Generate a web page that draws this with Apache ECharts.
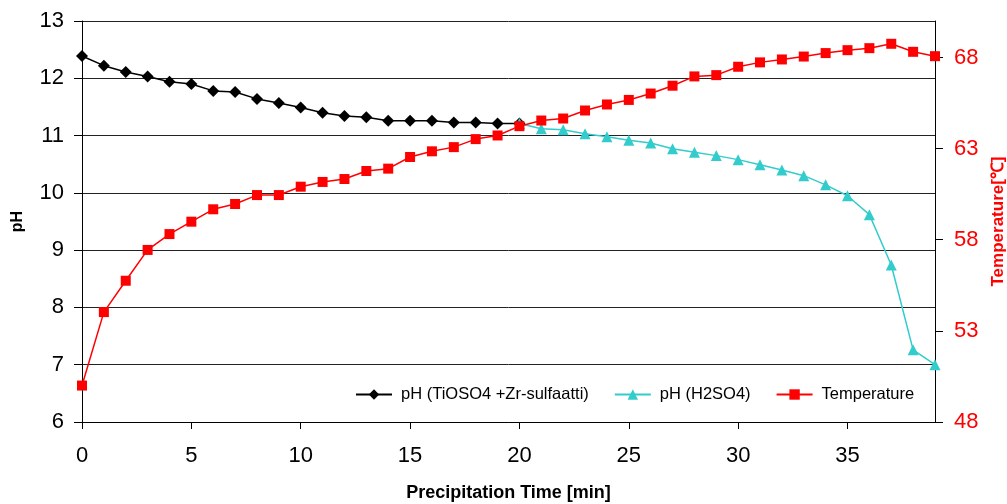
<!DOCTYPE html>
<html><head><meta charset="utf-8">
<script src="https://cdn.jsdelivr.net/npm/echarts@6/dist/echarts.min.js"></script>
<style>html,body{margin:0;padding:0;background:#fff}#c{width:1007px;height:504px}</style>
</head><body><div id="c"></div>
<script>
const times = [0,1,2,3,4,5,6,7,8,9,10,11,12,13,14,15,16,17,18,19,20,21,22,23,24,25,26,27,28,29,30,31,32,33,34,35,36,37,38,39];
const phTiOSO4 = [12.39,12.22,12.11,12.03,11.94,11.90,11.78,11.76,11.64,11.57,11.49,11.40,11.34,11.32,11.26,11.26,11.26,11.23,11.23,11.21,11.21];
const phH2SO4Times = [20,21,22,23,24,25,26,27,28,29,30,31,32,33,34,35,36,37,38,39];
const phH2SO4 = [11.21,11.12,11.10,11.03,10.98,10.92,10.87,10.77,10.71,10.65,10.58,10.49,10.40,10.30,10.14,9.95,9.62,8.74,7.26,7.00];
const temperature = [50.0,54.03,55.75,57.44,58.31,58.99,59.67,59.96,60.45,60.45,60.91,61.17,61.33,61.77,61.90,62.54,62.85,63.08,63.52,63.72,64.23,64.54,64.65,65.09,65.42,65.67,66.02,66.45,66.96,67.03,67.49,67.73,67.89,68.05,68.24,68.40,68.51,68.75,68.31,68.07];
const seriesNames = ['pH (TiOSO4 +Zr-sulfaatti)','pH (H2SO4)','Temperature'];

const chart = echarts.init(document.getElementById('c'));
const font = 'Liberation Sans, Arial, sans-serif';
chart.setOption({
  animation:false,
  textStyle:{fontFamily:font},
  grid:{left:82,right:72,top:21,bottom:82,containLabel:false,outerBoundsMode:'none'},
  legend:{
    data:seriesNames, left:350, top:381, itemWidth:36, itemHeight:13, itemGap:25,
    textStyle:{fontSize:16.5,color:'#000',fontFamily:font,padding:[0,0,0,4]}
  },
  xAxis:{
    type:'value', min:0, max:39, interval:5,
    name:'Precipitation Time [min]', nameLocation:'middle', nameGap:62,
    nameTextStyle:{fontSize:18,fontWeight:'bold',color:'#000',fontFamily:font},
    axisLine:{lineStyle:{color:'#000',width:1}},
    axisTick:{show:true,length:7,lineStyle:{color:'#000'}},
    axisLabel:{fontSize:22,color:'#000',margin:23,showMaxLabel:false,fontFamily:font},
    splitLine:{show:false}
  },
  yAxis:[{
    type:'value', min:6, max:13, interval:1, position:'left',
    name:'pH', nameLocation:'middle', nameGap:56, nameRotate:90,
    nameTextStyle:{fontSize:16,fontWeight:'bold',color:'#000',fontFamily:font},
    axisLine:{show:true,lineStyle:{color:'#000'}},
    axisTick:{show:true,length:8,lineStyle:{color:'#000'}},
    axisLabel:{fontSize:22,color:'#000',margin:18,fontFamily:font},
    splitLine:{show:true,lineStyle:{color:'#222',width:1}}
  },{
    type:'value', min:48, max:70, interval:5, position:'right',
    name:'Temperature[℃]', nameLocation:'middle', nameGap:55, nameRotate:90,
    nameTextStyle:{fontSize:17,fontWeight:'bold',color:'#ff0000',fontFamily:font},
    axisLine:{show:true,lineStyle:{color:'#000'}},
    axisTick:{show:true,length:8,inside:false,lineStyle:{color:'#000'}},
    axisLabel:{fontSize:22,color:'#ff0000',margin:19,showMaxLabel:false,fontFamily:font},
    splitLine:{show:false}
  }],
  series:[{
    name:seriesNames[0], type:'line', yAxisIndex:0,
    data:phTiOSO4.map((v,i)=>[times[i],v]),
    symbol:'diamond', symbolSize:12,
    itemStyle:{color:'#000'}, lineStyle:{color:'#000',width:1.5}
  },{
    name:seriesNames[1], type:'line', yAxisIndex:0,
    data:phH2SO4.map((v,i)=>[phH2SO4Times[i],v]),
    symbol:'triangle', symbolSize:11,
    itemStyle:{color:'#33cccc'}, lineStyle:{color:'#33cccc',width:1.5}
  },{
    name:seriesNames[2], type:'line', yAxisIndex:1,
    data:temperature.map((v,i)=>[times[i],v]),
    symbol:'rect', symbolSize:10,
    itemStyle:{color:'#ff0000'}, lineStyle:{color:'#ff0000',width:1.5}
  }]
});
</script></body></html>
